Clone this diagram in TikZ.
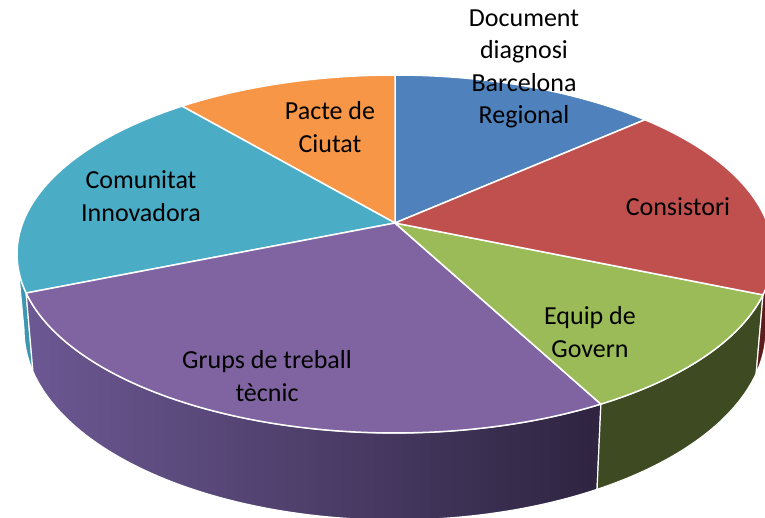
\documentclass[tikz,border=0pt]{standalone}
\usepackage{fontspec}
\setmainfont{Carlito}
\begin{document}
\begin{tikzpicture}[x=1pt,y=-1pt,
  slicetop/.style={draw=white,line width=1.5pt,line join=round},
  sideface/.style={draw=white,line width=1.2pt,line join=round},
  lbl/.style={align=center,text=black,font=\fontsize{26}{32.5}\selectfont,inner sep=0pt}]
\definecolor{cBlue}{HTML}{4F81BD}
\definecolor{cRed}{HTML}{C0504D}
\definecolor{cGreen}{HTML}{9BBB59}
\definecolor{cPurple}{HTML}{8064A2}
\definecolor{cAqua}{HTML}{4BACC6}
\definecolor{cOrange}{HTML}{F79646}
\definecolor{sAqua}{HTML}{3D97B0}
\definecolor{sPurpleL}{HTML}{6C5893}
\definecolor{sPurpleR}{HTML}{2E2440}
\definecolor{sGreen}{HTML}{3E4B22}
\definecolor{sRed}{HTML}{5E1B1B}
\useasboundingbox (0,0) rectangle (765,518);
\clip (0,0) rectangle (765,518);
\coordinate (ap) at (395,223);
% ---- side faces (front half) ----
\path[sideface,fill=sAqua]
  plot[domain=180:192.6,samples=20,variable=\t] ({395+378*cos(\t)},{254-179*sin(\t)})
  -- plot[domain=192.6:180,samples=20,variable=\t] ({395+371*cos(\t)},{330-190*sin(\t)}) -- cycle;
\path[sideface,left color=sPurpleL,right color=sPurpleR]
  plot[domain=192.6:303,samples=80,variable=\t] ({395+378*cos(\t)},{254-179*sin(\t)})
  -- plot[domain=303:192.6,samples=80,variable=\t] ({395+371*cos(\t)},{330-190*sin(\t)}) -- cycle;
\path[sideface,fill=sGreen]
  plot[domain=303:346.8,samples=40,variable=\t] ({395+378*cos(\t)},{254-179*sin(\t)})
  -- plot[domain=346.8:303,samples=40,variable=\t] ({395+371*cos(\t)},{330-190*sin(\t)}) -- cycle;
\path[sideface,fill=sRed]
  plot[domain=346.8:360,samples=20,variable=\t] ({395+378*cos(\t)},{254-179*sin(\t)})
  -- plot[domain=360:346.8,samples=20,variable=\t] ({395+371*cos(\t)},{330-190*sin(\t)}) -- cycle;
% ---- top faces ----
\path[slicetop,fill=cBlue] (ap) -- plot[domain=48.6:90,samples=40,variable=\t] ({395+378*cos(\t)},{254-179*sin(\t)}) -- cycle;
\path[slicetop,fill=cOrange] (ap) -- plot[domain=90:124.3,samples=40,variable=\t] ({395+378*cos(\t)},{254-179*sin(\t)}) -- cycle;
\path[slicetop,fill=cAqua] (ap) -- plot[domain=124.3:192.6,samples=60,variable=\t] ({395+378*cos(\t)},{254-179*sin(\t)}) -- cycle;
\path[slicetop,fill=cPurple] (ap) -- plot[domain=192.6:303,samples=80,variable=\t] ({395+378*cos(\t)},{254-179*sin(\t)}) -- cycle;
\path[slicetop,fill=cGreen] (ap) -- plot[domain=303:346.8,samples=40,variable=\t] ({395+378*cos(\t)},{254-179*sin(\t)}) -- cycle;
\path[slicetop,fill=cRed] (ap) -- plot[domain=346.8:408.6,samples=60,variable=\t] ({395+378*cos(\t)},{254-179*sin(\t)}) -- cycle;
% ---- labels ----
\node[lbl] (ldoc) at (524,69) {Document\\diagnosi\\Barcelona\\Regional};
\node[lbl] (lpac) at (330,127) {Pacte de\\Ciutat};
\node[lbl] (lcom) at (141,196) {Comunitat\\Innovadora};
\node[lbl] (lcon) at (678,207) {Consistori};
\node[lbl] (lequ) at (590,332) {Equip de\\Govern};
\node[lbl] (lgru) at (267,376) {Grups de treball\\tècnic};
\end{tikzpicture}
\end{document}
